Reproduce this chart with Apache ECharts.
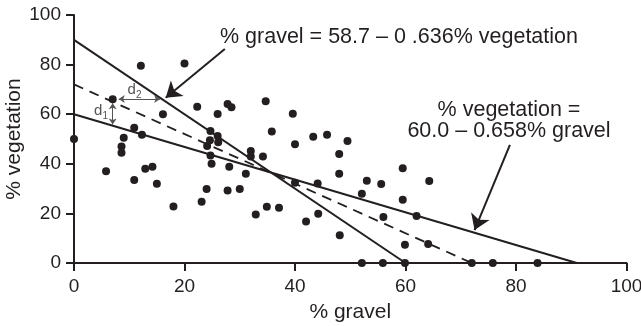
<!DOCTYPE html>
<html>
<head>
<meta charset="utf-8">
<style>
  html, body { margin: 0; padding: 0; background: #fff; }
  #container { width: 641px; height: 326px; }
</style>
<script src="https://cdn.jsdelivr.net/npm/echarts@6/dist/echarts.min.js"></script>
</head>
<body>
<div id="container"></div>
<script>
var dom = document.getElementById("container");
var myChart = echarts.init(dom, null, {renderer: 'canvas'});
var option;

var gravel = [0, 5.8, 7, 8.6, 8.6, 9, 10.9, 10.9, 12.1, 12.3, 12.9, 14.2, 15, 16.1, 18, 20,
    22.3, 23.1, 24, 24.1, 24.6, 24.7, 24.7, 24.9, 26, 26, 26.1, 27.8, 28.5, 27.8, 28.1, 30,
    31.1, 32, 32, 32.9, 34.2, 34.7, 34.9, 35.8, 37.1, 39.6, 40, 40, 42, 43.3, 44.1, 44.2,
    45.8, 48, 48, 48.1, 49.5, 52.1, 53, 55.6, 56, 59.5, 59.5, 59.9, 62, 64.1, 64.3,
    52.1, 55.9, 59.9, 72, 75.8, 83.9];
var vegetation = [50, 37, 66, 44.5, 47, 50.5, 54.5, 33.5, 79.5, 51.7, 38, 38.8, 32, 60, 22.8, 80.4,
    63, 24.7, 29.8, 47.2, 49.5, 53.2, 43.3, 40, 60.1, 51.2, 48.7, 64.1, 62.8, 29.2, 38.8, 29.8,
    36, 45.2, 42.9, 19.6, 42.9, 65.2, 22.7, 53, 22.3, 60.2, 47.9, 32.4, 16.7, 50.9, 32.1, 19.9,
    51.7, 44, 36, 11.2, 49.2, 27.9, 33.2, 31.9, 18.5, 38.2, 25.5, 7.4, 19, 7.7, 33.1,
    0, 0, 0, 0, 0, 0];

// fitted lines (end points as drawn)
var gravelOnVeg = [[0, 90], [60, 0]];
var vegOnGravel = [[0, 60], [91, 0]];
var middleLine = [[0, 72], [72, 0]];

var xTicks = [0, 20, 40, 60, 80, 100];
var yTicks = [0, 20, 40, 60, 80, 100];

var ink = '#231f20';
var points = gravel.map(function (g, i) { return [g, vegetation[i]]; });

function arrow(from, to) {
    return [{coord: from}, {coord: to}];
}

option = {
    animation: false,
    grid: {
        left: 74,
        right: 14.5,
        top: 15,
        bottom: 63,
        outerBoundsMode: 'none',
        containLabel: false
    },
    xAxis: {
        type: 'value',
        min: xTicks[0],
        max: xTicks[xTicks.length - 1],
        interval: 20,
        name: '% gravel',
        nameLocation: 'middle',
        nameGap: 39,
        nameMoveOverlap: false,
        nameTextStyle: {color: ink, fontSize: 21, fontFamily: 'Liberation Sans'},
        axisLine: {lineStyle: {color: ink, width: 2}},
        axisTick: {length: 8, lineStyle: {color: ink, width: 2}},
        axisLabel: {color: ink, fontSize: 19, fontFamily: 'Liberation Sans', margin: 14},
        splitLine: {show: false}
    },
    yAxis: {
        type: 'value',
        min: yTicks[0],
        max: yTicks[yTicks.length - 1],
        interval: 20,
        name: '% vegetation',
        nameLocation: 'middle',
        nameGap: 49,
        nameMoveOverlap: false,
        nameTextStyle: {color: ink, fontSize: 21, fontFamily: 'Liberation Sans'},
        axisLine: {lineStyle: {color: ink, width: 2}},
        axisTick: {length: 8, lineStyle: {color: ink, width: 2}},
        axisLabel: {color: ink, fontSize: 19, fontFamily: 'Liberation Sans', margin: 13},
        splitLine: {show: false}
    },
    series: [
        {
            type: 'line',
            data: gravelOnVeg,
            symbol: 'none',
            z: 1,
            lineStyle: {color: ink, width: 2}
        },
        {
            type: 'line',
            data: vegOnGravel,
            symbol: 'none',
            z: 1,
            lineStyle: {color: ink, width: 2}
        },
        {
            type: 'line',
            data: middleLine,
            symbol: 'none',
            z: 1,
            lineStyle: {color: ink, width: 1.8, type: [10, 7]}
        },
        {
            type: 'scatter',
            data: points,
            symbol: 'circle',
            symbolSize: 8,
            z: 3,
            itemStyle: {color: ink, opacity: 1}
        },
        {
            // call-out arrows
            type: 'line',
            data: [],
            markLine: {
                silent: true,
                symbol: ['none', 'arrow'],
                symbolSize: 15,
                label: {show: false},
                emphasis: {disabled: true},
                lineStyle: {color: ink, width: 2, type: 'solid'},
                data: [
                    arrow([27.3, 86.3], [16.6, 66.6]),
                    arrow([78.9, 47.6], [72.5, 13.3])
                ]
            }
        },
        {
            // d1 / d2 distance arrows
            type: 'line',
            data: [],
            markLine: {
                silent: true,
                symbol: ['arrow', 'arrow'],
                symbolSize: 6,
                label: {show: false},
                emphasis: {disabled: true},
                lineStyle: {color: '#555', width: 1, type: 'solid'},
                data: [
                    arrow([8.1, 66.1], [15.6, 66.1]),
                    arrow([7, 64.4], [7, 55.8])
                ]
            }
        }
    ],
    graphic: [
        {
            type: 'text', x: 220, y: 37,
            style: {text: '% gravel = 58.7 \u2013 0 .636% vegetation', fill: ink,
                font: '21.5px "Liberation Sans"', align: 'left', verticalAlign: 'middle'}
        },
        {
            type: 'text', x: 509, y: 110,
            style: {text: '% vegetation =', fill: ink,
                font: '21.5px "Liberation Sans"', align: 'center', verticalAlign: 'middle'}
        },
        {
            type: 'text', x: 509, y: 131.5,
            style: {text: '60.0 \u2013 0.658% gravel', fill: ink,
                font: '21.5px "Liberation Sans"', align: 'center', verticalAlign: 'middle'}
        },
        {
            type: 'text', x: 127.5, y: 90,
            style: {text: 'd', fill: '#555', font: '15px "Liberation Sans"', align: 'left', verticalAlign: 'middle'}
        },
        {
            type: 'text', x: 136, y: 95,
            style: {text: '2', fill: '#555', font: '10px "Liberation Sans"', align: 'left', verticalAlign: 'middle'}
        },
        {
            type: 'text', x: 94, y: 111,
            style: {text: 'd', fill: '#555', font: '15px "Liberation Sans"', align: 'left', verticalAlign: 'middle'}
        },
        {
            type: 'text', x: 102.5, y: 116,
            style: {text: '1', fill: '#555', font: '10px "Liberation Sans"', align: 'left', verticalAlign: 'middle'}
        }
    ]
};

if (option && typeof option === 'object') {
    myChart.setOption(option);
}
</script>
</body>
</html>
